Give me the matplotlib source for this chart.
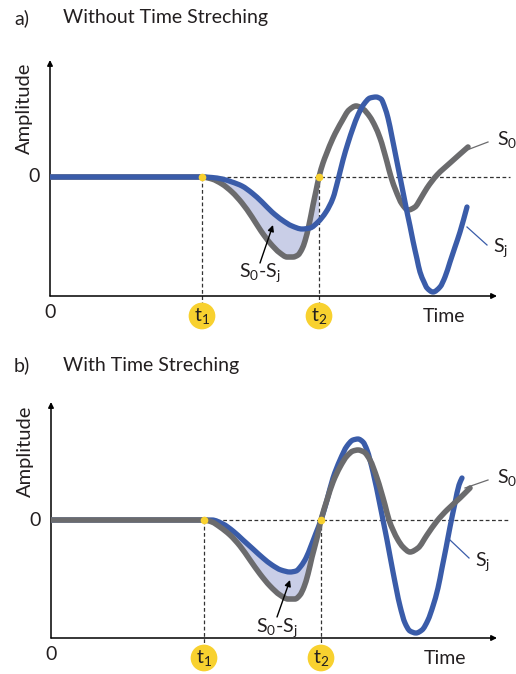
import numpy as np
import matplotlib
matplotlib.use('Agg')
import matplotlib.pyplot as plt
from matplotlib.path import Path
from matplotlib.patches import PathPatch

plt.rcParams['font.family'] = ['Lato', 'DejaVu Sans']
plt.rcParams['mathtext.fontset'] = 'custom'
plt.rcParams['mathtext.rm'] = 'Lato'
plt.rcParams['mathtext.it'] = 'Lato:italic'
plt.rcParams['mathtext.bf'] = 'Lato:bold'

# ---------------- data (time in samples, amplitude in arbitrary units) ----------------
# Panel a: without time stretching
a_s0_t = [0, 50, 100, 152, 162, 172, 182, 192, 202, 211, 220, 230, 237, 243, 248, 252, 255, 259,
          263, 266, 269, 273, 276, 283, 292, 299, 306, 313, 320, 325, 330, 337, 341, 346, 352, 358,
          365, 371, 377, 387, 400, 418]
a_s0_a = [0, 0, 0, 0, -0.02, -0.07, -0.15, -0.26, -0.40, -0.54, -0.66, -0.76, -0.80, -0.80, -0.78,
          -0.72, -0.64, -0.48, -0.28, -0.14, 0.0, 0.14, 0.22, 0.39, 0.56, 0.67, 0.71, 0.68, 0.60,
          0.51, 0.39, 0.15, 0.0, -0.14, -0.27, -0.33, -0.30, -0.21, -0.11, 0.02, 0.14, 0.30]
a_sj_t = [0, 50, 100, 152, 162, 172, 182, 192, 202, 212, 222, 232, 242, 252, 260, 268, 276, 283,
          288, 293, 298, 303, 308, 314, 320, 326, 331, 335, 338, 342, 346, 350, 354, 357, 360, 363,
          367, 370, 374, 377, 383, 390, 395, 400, 405, 410, 417]
a_sj_a = [0, 0, 0, 0, -0.005, -0.02, -0.05, -0.09, -0.16, -0.25, -0.35, -0.43, -0.49, -0.52, -0.51,
          -0.45, -0.35, -0.21, -0.03, 0.17, 0.34, 0.49, 0.62, 0.73, 0.79, 0.80, 0.78, 0.69, 0.59, 0.40,
          0.20, 0.0, -0.20, -0.35, -0.49, -0.64, -0.82, -0.95, -1.05, -1.11, -1.15, -1.10, -1.00,
          -0.85, -0.70, -0.55, -0.30]
a_t1, a_t2 = 152, 269

# Panel b: with time stretching
b_s0_t = [0, 49, 99, 153, 161, 169, 179, 189, 199, 209, 219, 229, 237, 244, 249, 253, 257, 261,
          266, 270, 276, 282, 289, 296, 302, 307, 313, 319, 326, 334, 338, 342, 347, 352, 359, 367,
          376, 386, 396, 409, 419]
b_s0_a = [0, 0, 0, 0, -0.02, -0.07, -0.15, -0.26, -0.40, -0.54, -0.66, -0.75, -0.79, -0.79, -0.75,
          -0.67, -0.54, -0.37, -0.18, 0.0, 0.20, 0.38, 0.53, 0.64, 0.69, 0.70, 0.68, 0.60, 0.42, 0.15,
          0.0, -0.10, -0.20, -0.27, -0.32, -0.28, -0.15, -0.01, 0.10, 0.22, 0.32]
b_sj_t = [0, 99, 153, 161, 172, 182, 192, 202, 212, 221, 230, 239, 245, 250, 255, 260, 265, 270,
          276, 282, 289, 296, 302, 307, 312, 316, 322, 329, 332, 336, 342, 349, 354, 359, 365, 371,
          377, 382, 387, 391, 395, 399, 404, 408, 411]
b_sj_a = [0, 0, 0, 0, -0.04, -0.11, -0.20, -0.29, -0.38, -0.45, -0.50, -0.52, -0.51, -0.46, -0.38,
          -0.26, -0.13, 0.0, 0.20, 0.42, 0.60, 0.74, 0.80, 0.81, 0.78, 0.70, 0.48, 0.15, 0.0, -0.20,
          -0.52, -0.86, -1.03, -1.11, -1.13, -1.10, -1.00, -0.86, -0.68, -0.48, -0.28, -0.07, 0.17,
          0.35, 0.42]
b_t1, b_t2 = 153, 270

panel_letters = ['a)', 'b)']
panel_titles = ['Without Time Streching', 'With Time Streching']

# ---------------- style ----------------
GRAY = '#6b6b6d'
BLUE = '#3a5ca9'
FILL = '#c9cee7'
YELLOW = '#f8d12f'
TXT = '#231f20'
FS = 14

fig = plt.figure(figsize=(5.16, 6.74), dpi=100)


def smooth_path(x, y):
    """Bezier path through the read points (monotone cubic Hermite slopes, no overshoot)."""
    x = np.asarray(x, float); y = np.asarray(y, float)
    n = len(x)
    h = np.diff(x)
    d = np.diff(y) / h
    m = np.zeros(n)
    m[0], m[-1] = d[0], d[-1]
    for i in range(1, n - 1):
        if d[i - 1] * d[i] <= 0:
            m[i] = 0.0
        else:
            w1 = 2 * h[i] + h[i - 1]
            w2 = h[i] + 2 * h[i - 1]
            m[i] = (w1 + w2) / (w1 / d[i - 1] + w2 / d[i])
    verts = [(x[0], y[0])]
    codes = [Path.MOVETO]
    for i in range(n - 1):
        dx = h[i] / 3
        verts += [(x[i] + dx, y[i] + m[i] * dx), (x[i + 1] - dx, y[i + 1] - m[i + 1] * dx),
                  (x[i + 1], y[i + 1])]
        codes += [Path.CURVE4] * 3
    return Path(verts, codes)


def draw_panel(ax, s0_t, s0_a, sj_t, sj_a, t1, t2, ybot, ytop, xend, sj_top,
               s0_lab, s0_lead, sj_lab, sj_lead, diff_lab, diff_arrow):
    ax.set_xlim(0, ax.get_position().width * 516)
    ax.set_ylim(-1.25, 1.25)
    ax.axis('off')
    s0_t = np.asarray(s0_t, float); s0_a = np.asarray(s0_a, float)
    sj_t = np.asarray(sj_t, float); sj_a = np.asarray(sj_a, float)

    # shaded difference S0-Sj between t1 and t2
    m0 = (s0_t > t1) & (s0_t < t2)
    mj = (sj_t > t1) & (sj_t < t2)
    xs = np.concatenate([[t1], s0_t[m0], [t2], [t2], sj_t[mj][::-1], [t1]])
    ys = np.concatenate([[np.interp(t1, s0_t, s0_a)], s0_a[m0], [np.interp(t2, s0_t, s0_a)],
                         [np.interp(t2, sj_t, sj_a)], sj_a[mj][::-1], [np.interp(t1, sj_t, sj_a)]])
    ax.fill(xs, ys, color=FILL, lw=0, zorder=1)

    # dashed guides
    ax.plot([t1, xend + 13], [0, 0], ls=(0, (3, 2)), color='#333333', lw=0.9, zorder=2)
    for t in (t1, t2):
        ax.plot([t, t], [0, -1.27], ls=(0, (3, 2)), color='#333333', lw=0.9, zorder=2,
                clip_on=False)

    # axes with arrows
    ax.annotate('', xy=(0, ytop), xytext=(0, ybot), xycoords='data',
                arrowprops=dict(arrowstyle='-|>', color='black', lw=1.1, mutation_scale=8,
                                shrinkA=0, shrinkB=0), annotation_clip=False)
    ax.annotate('', xy=(xend, ybot), xytext=(0, ybot), xycoords='data',
                arrowprops=dict(arrowstyle='-|>', color='black', lw=1.1, mutation_scale=8,
                                shrinkA=0, shrinkB=0), annotation_clip=False)

    # curves
    zs0, zsj = (4, 5) if sj_top else (5, 4)
    ax.add_patch(PathPatch(smooth_path(s0_t, s0_a), fill=False, edgecolor=GRAY, lw=4.0,
                           joinstyle='round', capstyle='round', zorder=zs0))
    ax.add_patch(PathPatch(smooth_path(sj_t, sj_a), fill=False, edgecolor=BLUE, lw=3.8,
                           joinstyle='round', capstyle='round', zorder=zsj))

    # points on zero line
    ax.plot([t1, t2], [0, 0], 'o', color=YELLOW, ms=5.5, mec='none', zorder=6)

    # t1, t2 circles
    yc = ybot - 0.20
    ax.scatter([t1, t2], [yc, yc], s=370, color=YELLOW, edgecolor='none', zorder=6, clip_on=False)
    ax.text(t1, yc, r'$\mathrm{t_1}$', ha='center', va='center', fontsize=FS, color=TXT, zorder=7)
    ax.text(t2, yc, r'$\mathrm{t_2}$', ha='center', va='center', fontsize=FS, color=TXT, zorder=7)

    # axis texts
    ax.text(0, ybot - 0.17, '0', ha='center', va='center', fontsize=FS, color=TXT)
    ax.text(-16, 0, '0', ha='center', va='center', fontsize=FS, color=TXT)
    ax.text(-26, 0.69, 'Amplitude', rotation=90, ha='center', va='center', fontsize=FS + 0.5,
            color=TXT)
    ax.text(394, ybot - 0.20, 'Time', ha='center', va='center', fontsize=FS, color=TXT)

    # curve labels
    ax.plot(*s0_lead, color=GRAY, lw=0.9, zorder=3, clip_on=False)
    ax.text(s0_lab[0], s0_lab[1], r'S$_0$', ha='left', va='center', fontsize=FS, color=TXT)
    ax.plot(*sj_lead, color=BLUE, lw=0.9, zorder=3, clip_on=False)
    ax.text(sj_lab[0], sj_lab[1], r'S$_\mathrm{j}$', ha='left', va='center', fontsize=FS, color=TXT)
    ax.annotate('', xy=diff_arrow[1], xytext=diff_arrow[0],
                arrowprops=dict(arrowstyle='-|>', color='black', lw=1.0, mutation_scale=9,
                                shrinkA=0, shrinkB=0), zorder=6)
    ax.text(diff_lab[0], diff_lab[1], r'S$_0$-S$_\mathrm{j}$', ha='center', va='center',
            fontsize=FS, color=TXT)


ax_a = fig.add_axes([50 / 516, 1 - 302 / 674, 466 / 516, 250 / 674])
draw_panel(ax_a, a_s0_t, a_s0_a, a_sj_t, a_sj_a, a_t1, a_t2, ybot=-1.19, ytop=1.17, xend=447,
           sj_top=True,
           s0_lab=(447, 0.37), s0_lead=([417, 438], [0.27, 0.35]),
           sj_lab=(443, -0.71), sj_lead=([417, 437], [-0.50, -0.68]),
           diff_lab=(210, -0.96), diff_arrow=((210, -0.86), (223, -0.48)))

ax_b = fig.add_axes([51 / 516, 1 - 645 / 674, 465 / 516, 250 / 674])
draw_panel(ax_b, b_s0_t, b_s0_a, b_sj_t, b_sj_a, b_t1, b_t2, ybot=-1.18, ytop=1.18, xend=446,
           sj_top=False,
           s0_lab=(446, 0.42), s0_lead=([414, 437], [0.32, 0.40]),
           sj_lab=(424, -0.42), sj_lead=([399, 418], [-0.20, -0.38]),
           diff_lab=(226, -1.08), diff_arrow=((226, -0.97), (239, -0.60)))

for i, ypx in enumerate([18, 365]):
    fig.text(14 / 516, 1 - ypx / 674, panel_letters[i], ha='left', va='center', fontsize=FS,
             color=TXT)
    fig.text(63 / 516, 1 - ypx / 674, panel_titles[i], ha='left', va='center', fontsize=FS,
             color=TXT)

fig.savefig('out.png', dpi=100)
